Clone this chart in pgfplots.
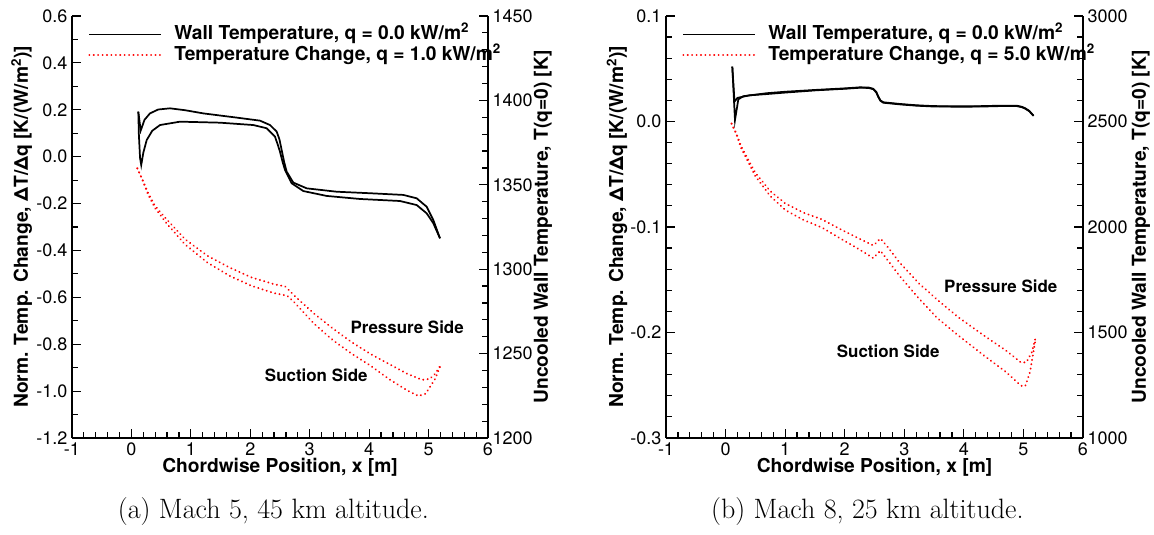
\documentclass[border=0pt]{standalone}
\usepackage{pgfplots}
\pgfplotsset{compat=1.18}
\usepackage{fontspec}
\newfontfamily\hv{TeX Gyre Heros}
\newcommand\tickfont{\fontsize{13.5}{15}\hv}
\newcommand\labfont{\fontsize{14.4}{17}\hv\bfseries}
\newcommand\annfont{\fontsize{12.7}{15}\hv\bfseries}
\newcommand\legfont{\fontsize{14.4}{16}\hv\bfseries}
\definecolor{dotred}{rgb}{1,0,0}
\pgfplotsset{
  base/.style={
    scale only axis, height=316.5pt,
    xmin=-1, xmax=6,
    tick align=inside,
    major tick length=6.75pt, minor tick length=4.25pt,
    every tick/.append style={black, line width=0.9pt},
    axis line style={line width=1.5pt},
    ticklabel style={font=\tickfont},
    label style={font=\labfont},
    clip=false,
  },
  blk/.style={black, line width=1.3pt},
  rdot/.style={dotred, line width=1.6pt, line cap=round, dash pattern=on 0.01pt off 3.3pt},
  leg/.style={
    legend image code/.code={\draw[##1] (0pt,0pt) -- (54pt,0pt); \path (61pt,0pt);},
    legend style={draw=none, fill=none, font=\legfont, at={(axis description cs:0,1)},
      anchor=north west, xshift=12pt, yshift=-7pt, inner sep=0pt, row sep=2pt,
      nodes={text height=10pt, text depth=2.5pt, inner ysep=0.5pt, inner xsep=2pt}},
    legend cell align=left,
  },
}
\begin{document}
\begin{tikzpicture}
\path[use as bounding box] (0,0) rectangle (865.5pt,401.25pt);
% ---------------- Panel (a) ----------------
\begin{axis}[base, width=312pt, at={(54pt,72.75pt)}, anchor=south west,
  axis x line*=bottom, axis y line*=left,
  ymin=-1.2, ymax=0.6,
  xtick={-1,0,1,2,3,4,5,6}, xticklabels={-1,0,1,2,3,4,5,6}, minor x tick num=4,
  ytick={-1.2,-1,-0.8,-0.6,-0.4,-0.2,0,0.2,0.4,0.6},
  yticklabels={-1.2,-1.0,-0.8,-0.6,-0.4,-0.2,0.0,0.2,0.4,0.6},
  minor y tick num=1,
  xlabel={Chordwise Position, x [m]},
  xlabel style={at={(axis description cs:0.5,-0.0687)}, anchor=center},
  ylabel={Norm. Temp. Change, ΔT/Δq [K/(W/m\textsuperscript{2})]},
  ylabel style={at={(axis description cs:-0.1208,0.5)}, anchor=center},
]
\addplot[rdot] coordinates {(0.1,-0.05) (0.185,-0.097) (0.28,-0.154) (0.40,-0.211) (0.59,-0.267) (0.90,-0.352) (1.28,-0.423) (1.65,-0.473) (2.02,-0.515) (2.40,-0.544) (2.59,-0.554) (2.77,-0.60) (3.08,-0.671) (3.40,-0.735) (3.71,-0.792) (4.02,-0.841) (4.33,-0.884) (4.64,-0.926) (4.89,-0.952) (5.02,-0.948) (5.11,-0.926) (5.2,-0.891)};
\addplot[rdot] coordinates {(0.1,-0.05) (0.185,-0.10) (0.28,-0.161) (0.40,-0.22) (0.59,-0.284) (0.90,-0.374) (1.28,-0.452) (1.65,-0.508) (2.02,-0.551) (2.40,-0.582) (2.62,-0.593) (2.77,-0.629) (3.08,-0.714) (3.40,-0.785) (3.71,-0.841) (4.02,-0.891) (4.33,-0.948) (4.64,-0.997) (4.83,-1.021) (4.95,-1.011) (5.04,-0.976) (5.11,-0.948) (5.2,-0.891)};
\node[font=\annfont] at (axis cs:4.64,-0.728) {Pressure Side};
\node[font=\annfont] at (axis cs:3.11,-0.933) {Suction Side};
\end{axis}
\begin{axis}[base, width=312pt, at={(54pt,72.75pt)}, anchor=south west, leg,
  axis x line=none, axis y line*=right,
  ymin=1200, ymax=1450,
  ytick={1200,1250,1300,1350,1400,1450},
  yticklabels={1200,1250,1300,1350,1400,1450},
  minor y tick num=4,
  ylabel={Uncooled Wall Temperature, T(q=0) [K]},
  ylabel style={at={(axis description cs:1.1322,0.5)}, anchor=center},
]
\addlegendimage{blk}
\addlegendentry{Wall Temperature, q = 0.0 kW/m\textsuperscript{2}}
\addlegendimage{rdot}
\addlegendentry{Temperature Change, q = 1.0 kW/m\textsuperscript{2}}
\addplot[blk, forget plot] coordinates {(0.116,1393.3) (0.156,1382.1) (0.22,1388.5) (0.312,1392.3) (0.45,1394.6) (0.649,1395.3) (0.9,1394.2) (1.21,1392.3) (1.771,1389.8) (2.163,1388.0) (2.332,1385.4) (2.444,1381.5) (2.49,1377) (2.528,1370.6) (2.57,1363.5) (2.612,1357.8) (2.724,1351.3) (2.949,1347.9) (3.454,1345.9) (4.014,1345.0) (4.575,1344.0) (4.80,1342.0) (4.968,1337.0) (5.08,1329.1) (5.192,1318.3)};
\addplot[blk, forget plot] coordinates {(0.116,1393.3) (0.125,1380) (0.145,1366) (0.165,1361.7) (0.2,1369) (0.257,1376.5) (0.35,1382) (0.481,1385.4) (0.817,1387.4) (1.49,1386.8) (2.051,1385.4) (2.276,1383.5) (2.416,1378.5) (2.46,1374) (2.5,1369.6) (2.54,1364) (2.584,1358.8) (2.696,1350.9) (2.892,1346.3) (3.285,1343.4) (3.846,1341.6) (4.519,1340.4) (4.80,1338.0) (4.968,1333.1) (5.08,1327.2) (5.192,1318.3)};
\end{axis}
% ---------------- Panel (b) ----------------
\begin{axis}[base, width=312.75pt, at={(499.5pt,72.75pt)}, anchor=south west,
  axis x line*=bottom, axis y line*=left,
  ymin=-0.3, ymax=0.1,
  xtick={-1,0,1,2,3,4,5,6}, xticklabels={-1,0,1,2,3,4,5,6}, minor x tick num=4,
  ytick={-0.3,-0.2,-0.1,0,0.1},
  yticklabels={-0.3,-0.2,-0.1,0.0,0.1},
  minor y tick num=4,
  xlabel={Chordwise Position, x [m]},
  xlabel style={at={(axis description cs:0.5,-0.0687)}, anchor=center},
  ylabel={Norm. Temp. Change, ΔT/Δq [K/(W/m\textsuperscript{2})]},
  ylabel style={at={(axis description cs:-0.1175,0.5)}, anchor=center},
]
\addplot[rdot] coordinates {(0.1,-0.002) (0.18,-0.011) (0.26,-0.0235) (0.50,-0.0487) (0.75,-0.066) (1.0,-0.0776) (1.31,-0.0865) (1.62,-0.0928) (1.93,-0.1022) (2.24,-0.111) (2.48,-0.1175) (2.6,-0.111) (2.73,-0.1195) (2.92,-0.1337) (3.23,-0.1526) (3.54,-0.1683) (3.91,-0.1857) (4.34,-0.203) (4.71,-0.2172) (4.96,-0.2285) (5.05,-0.2282) (5.14,-0.2187) (5.2,-0.2061)};
\addplot[rdot] coordinates {(0.1,-0.002) (0.18,-0.012) (0.26,-0.025) (0.50,-0.0518) (0.75,-0.0707) (1.0,-0.0839) (1.31,-0.0934) (1.62,-0.1006) (1.93,-0.111) (2.24,-0.1211) (2.48,-0.1295) (2.6,-0.1225) (2.73,-0.1321) (2.92,-0.1463) (3.23,-0.1668) (3.54,-0.1857) (3.91,-0.203) (4.34,-0.2219) (4.71,-0.2376) (4.96,-0.2505) (5.03,-0.2509) (5.11,-0.2376) (5.2,-0.2077)};
\node[font=\annfont] at (axis cs:4.62,-0.156) {Pressure Side};
\node[font=\annfont] at (axis cs:2.73,-0.218) {Suction Side};
\end{axis}
\begin{axis}[base, width=312.75pt, at={(499.5pt,72.75pt)}, anchor=south west, leg,
  axis x line=none, axis y line*=right,
  ymin=1000, ymax=3000,
  ytick={1000,1500,2000,2500,3000},
  yticklabels={1000,1500,2000,2500,3000},
  minor y tick num=4,
  ylabel={Uncooled Wall Temperature, T(q=0) [K]},
  ylabel style={at={(axis description cs:1.139,0.5)}, anchor=center},
]
\addlegendimage{blk}
\addlegendentry{Wall Temperature, q = 0.0 kW/m\textsuperscript{2}}
\addlegendimage{rdot}
\addlegendentry{Temperature Change, q = 5.0 kW/m\textsuperscript{2}}
\addplot[blk, forget plot] coordinates {(0.113,2760) (0.158,2507) (0.214,2605) (0.3,2620) (0.69,2634) (1.0,2641) (1.53,2650) (2.0,2657) (2.257,2662) (2.40,2661) (2.48,2655) (2.53,2640) (2.564,2618) (2.60,2600) (2.648,2591) (2.93,2583) (3.2,2577) (3.487,2573) (4.0,2572) (4.327,2573) (4.6,2575) (4.887,2575) (4.97,2570) (5.03,2563) (5.1,2550) (5.17,2527)};
\addplot[blk, forget plot] coordinates {(0.113,2760) (0.15,2594) (0.2,2612) (0.4,2624) (0.69,2630) (1.0,2637) (1.53,2648) (2.0,2655) (2.257,2660) (2.40,2659) (2.48,2653) (2.53,2638) (2.564,2616) (2.60,2598) (2.648,2589) (2.93,2581) (3.2,2575) (3.487,2571) (4.0,2570) (4.327,2571) (4.6,2573) (4.887,2573) (4.97,2568) (5.03,2561) (5.1,2548) (5.17,2527)};
\end{axis}
% captions
\node[font=\fontsize{21}{25}\selectfont, anchor=base] at (205pt,12.5pt) {(a) Mach 5, 45 km altitude.};
\node[font=\fontsize{21}{25}\selectfont, anchor=base] at (650.5pt,12.5pt) {(b) Mach 8, 25 km altitude.};
\end{tikzpicture}
\end{document}
